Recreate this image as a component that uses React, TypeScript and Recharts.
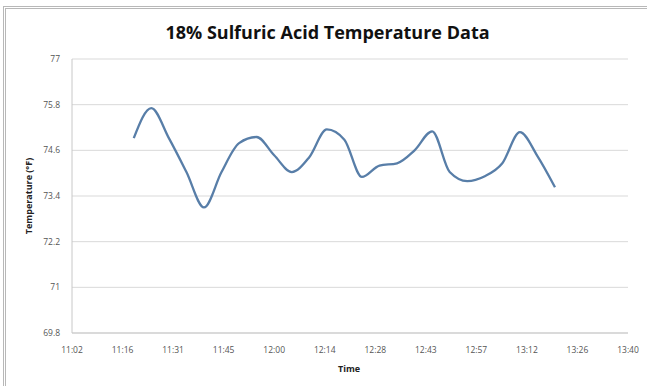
import React from "react";
import { CartesianGrid, Line, LineChart, XAxis, YAxis } from "recharts";

// minutes after midnight, one reading every 5 min from 11:20 to 13:20
const times = [
  680, 685, 690, 695, 700, 705, 710, 715, 720, 725, 730, 735, 740, 745, 750,
  755, 760, 765, 770, 775, 780, 785, 790, 795, 800,
];
const temps = [
  74.92, 75.71, 74.92, 74.03, 73.1, 74.03, 74.79, 74.95, 74.47, 74.03, 74.42,
  75.15, 74.88, 73.9, 74.2, 74.26, 74.6, 75.1, 74.03, 73.79, 73.92, 74.26,
  75.08, 74.45, 73.63,
];

// Excel time axis: 0.46 day to 0.57 day, step 0.01 day (14.4 min)
const xTicks = [
  662.4, 676.8, 691.2, 705.6, 720, 734.4, 748.8, 763.2, 777.6, 792, 806.4,
  820.8,
];
const xTickLabels = [
  "11:02", "11:16", "11:31", "11:45", "12:00", "12:14", "12:28", "12:43",
  "12:57", "13:12", "13:26", "13:40",
];
const yTicks = [69.8, 71, 72.2, 73.4, 74.6, 75.8, 77];

const data = times.map((t, i) => ({ time: t, temp: temps[i] }));

const FONT = "Open Sans, Liberation Sans, sans-serif";

export default function App() {
  return (
    <div
      style={{
        position: "absolute",
        left: 0,
        top: 0,
        width: 647,
        height: 386,
        overflow: "hidden",
        background: "#fff",
        fontFamily: FONT,
      }}
    >
      <div
        style={{
          position: "absolute",
          left: 3,
          top: 6,
          width: 700,
          height: 420,
          border: "3px double #b8b8b8",
        }}
      />
      <div
        style={{
          position: "absolute",
          left: 0,
          width: 655,
          top: 20,
          textAlign: "center",
          fontSize: 18,
          fontWeight: 700,
          color: "#111",
        }}
      >
        18% Sulfuric Acid Temperature Data
      </div>
      <div
        style={{
          position: "absolute",
          left: 28,
          top: 196,
          transform: "translate(-50%, -50%) rotate(-90deg)",
          fontSize: 9,
          fontWeight: 700,
          whiteSpace: "nowrap",
          color: "#222",
        }}
      >
        Temperature (°F)
      </div>
      <div
        style={{
          position: "absolute",
          left: 349,
          top: 368,
          transform: "translate(-50%, -50%)",
          fontSize: 9,
          fontWeight: 700,
          color: "#222",
        }}
      >
        Time
      </div>
      <div style={{ position: "absolute", left: 0, top: 0 }}>
        <LineChart
          width={647}
          height={386}
          data={data}
          margin={{ top: 59, right: 19, bottom: 23, left: 0 }}
        >
          <CartesianGrid stroke="#d9d9d9" vertical={false} />
          <XAxis
            type="number"
            dataKey="time"
            domain={[662.4, 820.8]}
            ticks={xTicks}
            tickFormatter={(v: number) => xTickLabels[xTicks.indexOf(v)] ?? ""}
            interval={0}
            height={30}
            axisLine={{ stroke: "#c8c8c8" }}
            tickLine={false}
            tickMargin={8}
            tick={{ fill: "#555", fontSize: 8.5, fontFamily: FONT }}
            allowDataOverflow
          />
          <YAxis
            type="number"
            domain={[69.8, 77]}
            ticks={yTicks}
            interval={0}
            width={72}
            axisLine={{ stroke: "#c8c8c8" }}
            tickLine={false}
            tickMargin={6}
            tick={{ fill: "#555", fontSize: 8.5, fontFamily: FONT }}
          />
          <Line
            type="monotone"
            dataKey="temp"
            stroke="#587ea8"
            strokeWidth={2.3}
            dot={false}
            isAnimationActive={false}
          />
        </LineChart>
      </div>
    </div>
  );
}
